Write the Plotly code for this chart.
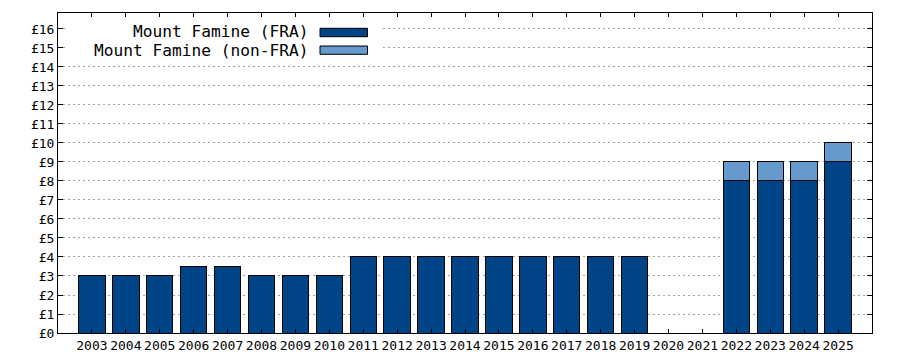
import plotly.graph_objects as go

years = list(range(2003, 2026))
fra = [3, 3, 3, 3.5, 3.5, 3, 3, 3, 4, 4, 4, 4, 4, 4, 4, 4, 4, None, None, 8, 8, 8, 9]
non_fra = [None] * 19 + [1, 1, 1, 1]
series_names = ["Mount Famine (FRA)", "Mount Famine (non-FRA)"]
colors = ["#004488", "#6699cc"]
y_ticks = list(range(0, 17))

OFF = 8  # default page body margin
W, H = 900 - OFF, 360 - OFF
L, R, T, B = 58, 872, 13, 333  # target plot edges in window pixels
def px(x): return (x - L) / (R - L)
def py(y): return (B - y) / (B - T)

fig = go.Figure()
for name, vals, c in zip(series_names, [fra, non_fra], colors):
    fig.add_trace(go.Bar(x=years, y=vals, name=name, width=0.78,
                         marker=dict(color=c, line=dict(color="black", width=1)),
                         showlegend=False))

font = "DejaVu Sans Mono"
fig.update_layout(
    barmode="stack", width=W, height=H,
    margin=dict(l=L - OFF, r=900 - R, t=T - OFF, b=360 - B),
    plot_bgcolor="white", paper_bgcolor="white",
    font=dict(family=font, size=13, color="black"),
)
fig.update_xaxes(range=[2002, 2026], tickvals=years, ticktext=[str(y) for y in years],
                 ticks="inside", ticklen=4, tickcolor="black", showline=True,
                 linecolor="black", linewidth=1, mirror="ticks", showgrid=False,
                 zeroline=False, automargin=False, tickfont=dict(family=font, size=13))
fig.update_yaxes(range=[0, 16.84], tickvals=y_ticks, ticktext=["£%d" % v for v in y_ticks],
                 ticks="inside", ticklen=5, tickcolor="black", showline=True,
                 linecolor="black", linewidth=1, mirror="ticks", showgrid=True,
                 gridcolor="#a0a0a0", griddash="2px,3px", gridwidth=1, zeroline=False,
                 automargin=False, tickfont=dict(family=font, size=13))

# legend box (gnuplot style: text then swatch)
fig.add_shape(type="rect", xref="paper", yref="paper", x0=px(68), x1=px(381),
              y0=py(57), y1=py(20), fillcolor="white", line=dict(width=0), layer="above")
rows = [(31.0, 28.3, 36.7), (50.4, 46, 54.3)]
for (cy, y0, y1), name, c in zip(rows, series_names, colors):
    fig.add_annotation(xref="paper", yref="paper", x=px(309), y=py(cy), text=name,
                       showarrow=False, xanchor="right", yanchor="middle",
                       borderpad=0,
                       font=dict(family=font, size=16.2, color="black"))
    fig.add_shape(type="rect", xref="paper", yref="paper", x0=px(320), x1=px(367.5),
                  y0=py(y1), y1=py(y0), fillcolor=c, line=dict(color="black", width=1),
                  layer="above")

fig.write_html("out.html")
